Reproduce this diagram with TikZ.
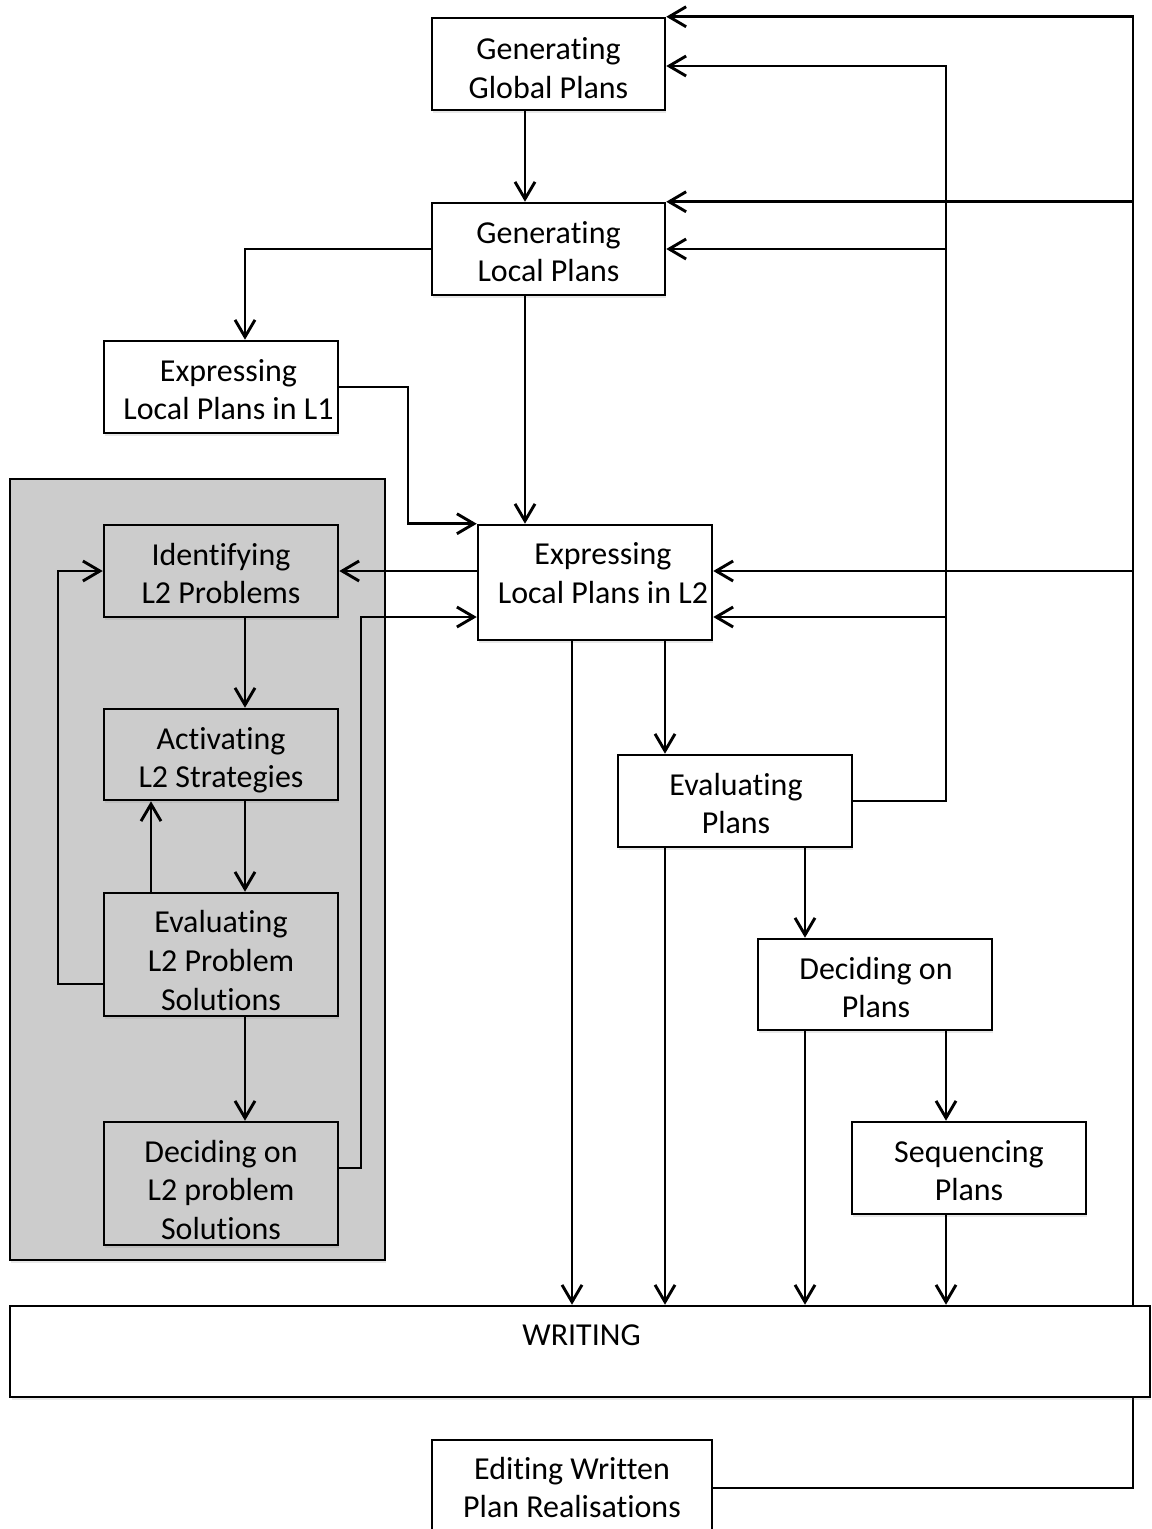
\documentclass[tikz,border=0pt]{standalone}
\usepackage{fontspec}
\setmainfont{Carlito}[Ligatures=NoCommon]
\usetikzlibrary{arrows.meta,shadows,backgrounds}
\definecolor{panelgrey}{RGB}{204,204,204}
\begin{document}
\begin{tikzpicture}[x=0.02cm,y=-0.02cm,
  box/.style={draw=black, line width=1.45pt, fill=white, rectangle, inner sep=0pt,
    drop shadow={shadow xshift=0.8pt, shadow yshift=-1.5pt, opacity=0.18}},
  panel/.style={box, fill=panelgrey},
  txt/.style={align=center, inner sep=0pt, font=\fontsize{18.2}{22}\selectfont},
  wire/.style={line width=1.65pt},
  conn/.style={wire, -{Straight Barb[length=3.4mm,width=4mm]}}
]
\useasboundingbox (0,0) rectangle (1152,1529);
\clip (0,0) rectangle (1152,1529);

% shaded group of L2 problem-solving steps
\node[panel, minimum width=7.5cm, minimum height=15.62cm] (grp) at (197.5,869.5) {};

% process boxes
\node[box, minimum width=4.66cm, minimum height=1.84cm] (ggp) at (548.5,64) {};
\node[box, minimum width=4.66cm, minimum height=1.84cm] (glp) at (548.5,249) {};
\node[box, minimum width=4.68cm, minimum height=1.84cm] (elp1) at (221,387) {};
\node[panel, minimum width=4.68cm, minimum height=1.84cm] (il2p) at (221,571) {};
\node[panel, minimum width=4.68cm, minimum height=1.82cm] (al2s) at (221,754.5) {};
\node[panel, minimum width=4.68cm, minimum height=2.46cm] (el2ps) at (221,954.5) {};
\node[panel, minimum width=4.68cm, minimum height=2.46cm] (dl2ps) at (221,1183.5) {};
\node[box, minimum width=4.68cm, minimum height=2.30cm] (elp2) at (595,582.5) {};
\node[box, minimum width=4.68cm, minimum height=1.84cm] (ep) at (735,801) {};
\node[box, minimum width=4.68cm, minimum height=1.82cm] (dp) at (875,984.5) {};
\node[box, minimum width=4.68cm, minimum height=1.84cm] (sp) at (969,1168) {};
\node[box, minimum width=22.8cm, minimum height=1.82cm] (wr) at (580,1351.5) {};
\node[box, minimum width=5.6cm, minimum height=3.2cm] (ew) at (572,1520) {};

% labels
\node[txt] (t-ggp) at (548.5,71) {\strut Generating\\\strut Global Plans};
\node[txt] (t-glp) at (548.5,254.7) {\strut Generating\\\strut Local Plans};
\node[txt] (t-elp1) at (228.5,392.7) {\strut Expressing\\\strut Local Plans in L1};
\node[txt] (t-il2p) at (221,576.7) {\strut Identifying\\\strut L2 Problems};
\node[txt] (t-al2s) at (221,760.7) {\strut Activating\\\strut L2 Strategies};
\node[txt] (t-el2ps) at (221,963.7) {\strut Evaluating\\L2 Problem\\\strut Solutions};
\node[txt] (t-dl2ps) at (221,1193.2) {\strut Deciding on\\L2 problem\\\strut Solutions};
\node[txt] (t-elp2) at (603,576.2) {\strut Expressing\\\strut Local Plans in L2};
\node[txt] (t-ep) at (736,806.7) {\strut Evaluating\\\strut Plans};
\node[txt] (t-dp) at (876,990.7) {\strut Deciding on\\\strut Plans};
\node[txt] (t-sp) at (969,1173.7) {\strut Sequencing\\\strut Plans};
\node[txt] (t-wr) at (581.5,1338) {\strut WRITING};
\node[txt] (t-ew) at (572,1490.7) {\strut Editing Written\\\strut Plan Realisations};

% routing channels
\coordinate (xA) at (525,0);
\coordinate (xB) at (245,0);
\coordinate (xC) at (408,0);
\coordinate (xD) at (361,0);
\coordinate (xE) at (58,0);
\coordinate (xF) at (151,0);
\coordinate (xG) at (572,0);
\coordinate (xH) at (665,0);
\coordinate (xI) at (805,0);
\coordinate (xM) at (946,0);
\coordinate (xR) at (1133,0);
\coordinate (yG) at (0,66);
\coordinate (yP) at (0,571);
\coordinate (yQ) at (0,617);
\coordinate (yE) at (0,984);
\coordinate (yD) at (0,1168);
\coordinate (yW) at (0,1488);

% feedback trunk from editing, running behind the WRITING bar
\begin{pgfonlayer}{background}
\draw[conn] (ew.east |- yW) -- (xR |- yW) -- (xR |- ggp.north east) -- (ggp.north east);
\end{pgfonlayer}
\draw[conn] (xR |- glp.north east) -- (glp.north east);
\draw[conn] (xR |- yP) -- (elp2.east |- yP);

% feedback trunk from plan evaluation
\draw[conn] (ep.east) -- (xM |- ep.east) -- (xM |- yG) -- (ggp.east |- yG);
\draw[conn] (xM |- glp.east) -- (glp.east);
\draw[conn] (xM |- yQ) -- (elp2.east |- yQ);

% planning chain
\draw[conn] (ggp.south -| xA) -- (glp.north -| xA);
\draw[conn] (glp.south -| xA) -- (elp2.north -| xA);
\draw[conn] (glp.west) -- (xB |- glp.west) -- (xB |- elp1.north);
\draw[conn] (elp1.east) -- (xC |- elp1.east) -- (xC |- elp2.north west) -- (elp2.north west);

% L2 problem solving
\draw[conn] (elp2.west |- yP) -- (il2p.east |- yP);
\draw[conn] (il2p.south -| xB) -- (al2s.north -| xB);
\draw[conn] (al2s.south -| xB) -- (el2ps.north -| xB);
\draw[conn] (el2ps.north -| xF) -- (al2s.south -| xF);
\draw[conn] (el2ps.south -| xB) -- (dl2ps.north -| xB);
\draw[conn] (el2ps.west |- yE) -- (xE |- yE) -- (xE |- il2p.west) -- (il2p.west);
\draw[conn] (dl2ps.east |- yD) -- (xD |- yD) -- (xD |- yQ) -- (elp2.west |- yQ);

% towards writing
\draw[conn] (elp2.south -| xG) -- (wr.north -| xG);
\draw[conn] (elp2.south -| xH) -- (ep.north -| xH);
\draw[conn] (ep.south -| xH) -- (wr.north -| xH);
\draw[conn] (ep.south -| xI) -- (dp.north -| xI);
\draw[conn] (dp.south -| xI) -- (wr.north -| xI);
\draw[conn] (dp.south -| xM) -- (sp.north -| xM);
\draw[conn] (sp.south -| xM) -- (wr.north -| xM);
\end{tikzpicture}
\end{document}
